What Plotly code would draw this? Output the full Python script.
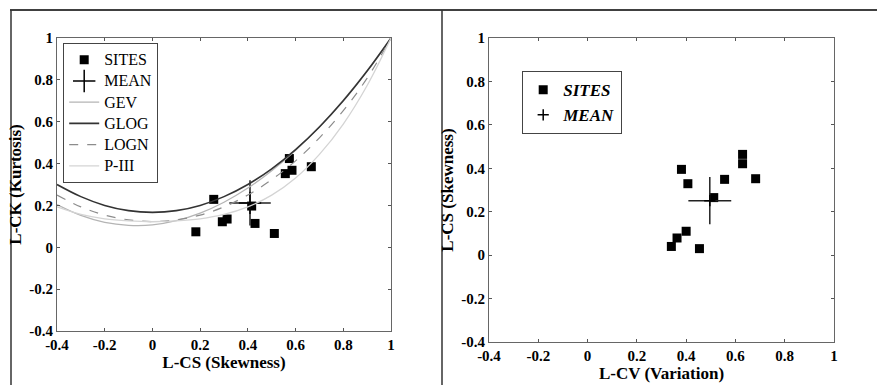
import plotly.graph_objects as go

W, H = 877, 385

# ---------------- data ----------------
tick_vals = [-0.4, -0.2, 0, 0.2, 0.4, 0.6, 0.8, 1.0]
tick_text = ["-0.4", "-0.2", "0", "0.2", "0.4", "0.6", "0.8", "1"]

# Left panel: L-moment ratio diagram
sites_lcs = [0.182, 0.257, 0.293, 0.313, 0.416, 0.430, 0.511, 0.557, 0.574, 0.585, 0.666]
sites_lck = [0.074, 0.229, 0.122, 0.135, 0.197, 0.114, 0.066, 0.352, 0.424, 0.368, 0.385]
mean_lcs, mean_lck = [0.409], [0.212]
mean_lcs_err, mean_lck_err = [0.087], [0.108]

curve_x = [-0.4, -0.3, -0.2, -0.1, 0.0, 0.1, 0.2, 0.3, 0.4, 0.5, 0.6, 0.7, 0.8, 0.9, 1.0]
gev_y  = [0.204, 0.152, 0.119, 0.105, 0.107, 0.127, 0.163, 0.215, 0.283, 0.366, 0.464, 0.576, 0.703, 0.844, 1.0]
glog_y = [0.300, 0.242, 0.200, 0.175, 0.167, 0.175, 0.200, 0.242, 0.300, 0.375, 0.467, 0.575, 0.700, 0.842, 1.0]
logn_y = [0.250, 0.193, 0.154, 0.131, 0.123, 0.131, 0.154, 0.193, 0.250, 0.323, 0.413, 0.523, 0.653, 0.808, 1.0]
p3_y   = [0.193, 0.157, 0.136, 0.126, 0.122, 0.126, 0.136, 0.157, 0.193, 0.249, 0.331, 0.444, 0.589, 0.773, 1.0]

# Right panel: L-CV vs L-CS
sites_lcv  = [0.381, 0.407, 0.556, 0.629, 0.629, 0.682, 0.512, 0.400, 0.363, 0.340, 0.454]
sites_lcs2 = [0.395, 0.329, 0.349, 0.464, 0.421, 0.352, 0.265, 0.110, 0.079, 0.040, 0.030]
mean_lcv, mean_lcs2 = [0.496], [0.251]
mean_lcv_err, mean_lcs2_err = [0.087], [0.109]

FONT = "Liberation Serif, Times New Roman, serif"


def big(name, size=16):
    return f"<span style='font-size:{size}px'>{name}</span>"


fig = go.Figure()

# ---- left panel ----
fig.add_trace(go.Scatter(x=sites_lcs, y=sites_lck, mode="markers", name=big("SITES"),
                         marker=dict(symbol="square", size=9, color="black"),
                         xaxis="x", yaxis="y", legend="legend"))
fig.add_trace(go.Scatter(x=mean_lcs, y=mean_lck, mode="markers", name=big("MEAN"),
                         marker=dict(symbol="cross-thin", size=16, color="black",
                                     line=dict(width=1.5, color="black")),
                         error_x=dict(type="data", array=mean_lcs_err, width=0, thickness=1.5, color="#222"),
                         error_y=dict(type="data", array=mean_lck_err, width=0, thickness=1.5, color="#222"),
                         xaxis="x", yaxis="y", legend="legend"))
fig.add_trace(go.Scatter(x=curve_x, y=gev_y, mode="lines", name=big("GEV"), line_shape="spline",
                         line=dict(color="#b4b4b4", width=1.3), xaxis="x", yaxis="y", legend="legend"))
fig.add_trace(go.Scatter(x=curve_x, y=glog_y, mode="lines", name=big("GLOG"), line_shape="spline",
                         line=dict(color="#333333", width=1.6), xaxis="x", yaxis="y", legend="legend"))
fig.add_trace(go.Scatter(x=curve_x, y=logn_y, mode="lines", name=big("LOGN"), line_shape="spline",
                         line=dict(color="#8c8c8c", width=1.2, dash="dash"), xaxis="x", yaxis="y", legend="legend"))
fig.add_trace(go.Scatter(x=curve_x, y=p3_y, mode="lines", name=big("P-III"), line_shape="spline",
                         line=dict(color="#d4d4d4", width=1.3), xaxis="x", yaxis="y", legend="legend"))

# ---- right panel ----
fig.add_trace(go.Scatter(x=sites_lcv, y=sites_lcs2, mode="markers", name="<b><i>SITES</i></b>",
                         marker=dict(symbol="square", size=9, color="black"),
                         xaxis="x2", yaxis="y2", legend="legend2"))
fig.add_trace(go.Scatter(x=mean_lcv, y=mean_lcs2, mode="markers", name="<b><i>MEAN</i></b>",
                         marker=dict(symbol="cross-thin", size=8, color="black",
                                     line=dict(width=1.5, color="black")),
                         error_x=dict(type="data", array=mean_lcv_err, width=0, thickness=1.5, color="#222"),
                         error_y=dict(type="data", array=mean_lcs2_err, width=0, thickness=1.5, color="#222"),
                         xaxis="x2", yaxis="y2", legend="legend2"))

axis_common = dict(range=[-0.4, 1.0], tickvals=tick_vals,
                   ticktext=[f"<b>{t}</b>" for t in tick_text],
                   ticks="inside", ticklen=3, tickcolor="#555", showline=True,
                   linecolor="#666", linewidth=1.2, mirror="ticks", showgrid=False,
                   zeroline=False, automargin=False,
                   tickfont=dict(family=FONT, size=15, color="black"))

TITLE_FONT = dict(family=FONT, size=17, color="black", weight="bold")


def px_x(p):
    return p / W


def px_y(p):
    return 1 - p / H


fig.update_layout(
    width=W, height=H, margin=dict(l=0, r=0, t=0, b=0, autoexpand=False),
    paper_bgcolor="white", plot_bgcolor="white", showlegend=True,
    xaxis=dict(domain=[px_x(57), px_x(391)], anchor="y",
               title=dict(text="L-CS (Skewness)", font=TITLE_FONT, standoff=0),
               **axis_common),
    yaxis=dict(domain=[px_y(331), px_y(38)], anchor="x",
               title=dict(text="L-CK (Kurtosis)", font=TITLE_FONT, standoff=3),
               **axis_common),
    xaxis2=dict(domain=[px_x(489), px_x(834)], anchor="y2",
                title=dict(text="L-CV (Variation)", font=TITLE_FONT, standoff=0),
                **axis_common),
    yaxis2=dict(domain=[px_y(342), px_y(38)], anchor="x2",
                title=dict(text="L-CS (Skewness)", font=TITLE_FONT, standoff=3),
                **axis_common),
    legend=dict(x=px_x(63), y=px_y(43), xanchor="left", yanchor="top",
                bordercolor="#444", borderwidth=1.2, bgcolor="white",
                font=dict(family=FONT, size=14, color="black"), tracegroupgap=0,
                itemwidth=30, traceorder="normal"),
    legend2=dict(x=px_x(522), y=px_y(71), xanchor="left", yanchor="top",
                 bordercolor="#444", borderwidth=1.2, bgcolor="white",
                 font=dict(family=FONT, size=17, color="black"), tracegroupgap=0,
                 itemwidth=30, traceorder="normal"),
    shapes=[
        dict(type="line", xref="paper", yref="paper", x0=px_x(10), x1=1, y0=px_y(10), y1=px_y(10),
             line=dict(color="black", width=1.5)),
        dict(type="line", xref="paper", yref="paper", x0=px_x(11), x1=px_x(11), y0=px_y(10), y1=0,
             line=dict(color="#333", width=1.5)),
        dict(type="line", xref="paper", yref="paper", x0=px_x(442), x1=px_x(442), y0=px_y(10), y1=0,
             line=dict(color="#333", width=1.5)),
    ],
)

fig.write_html("out.html")
